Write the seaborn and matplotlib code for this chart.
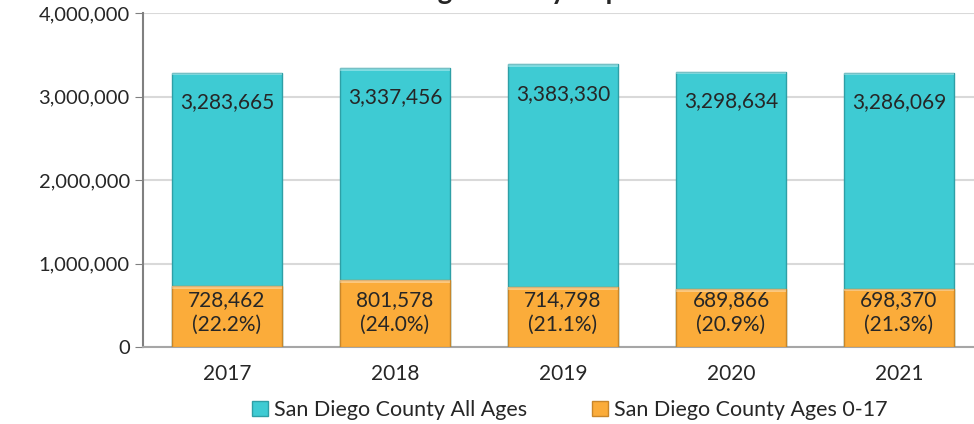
import matplotlib
matplotlib.use("Agg")
import matplotlib.pyplot as plt
from matplotlib.patches import Patch
from matplotlib.ticker import FuncFormatter
import seaborn as sns
import pandas as pd

years = ["2017", "2018", "2019", "2020", "2021"]
all_ages = [3283665, 3337456, 3383330, 3298634, 3286069]
ages_0_17 = [728462, 801578, 714798, 689866, 698370]
series_names = ["San Diego County All Ages", "San Diego County Ages 0-17"]
title = "San Diego County Population"

teal = "#3ECBD3"
orange = "#FBAC3A"


def main():
    sns.set_style("white")
    plt.rcParams["font.family"] = ["Lato", "DejaVu Sans"]

    df = pd.DataFrame({"year": years, "all": all_ages, "kids": ages_0_17})

    fig = plt.figure(figsize=(9.74, 4.24), dpi=100)
    ax = fig.add_axes([143 / 974, 77 / 424, 840 / 974, 334 / 424])

    sns.barplot(data=df, x="year", y="all", color=teal, width=0.66,
                saturation=1, edgecolor="#2E9FA6", linewidth=1, ax=ax, zorder=3)
    sns.barplot(data=df, x="year", y="kids", color=orange, width=0.66,
                saturation=1, edgecolor="#C9862A", linewidth=1, ax=ax, zorder=4)

    # light top edge like the bevel in the original
    for p in ax.patches:
        ax.add_patch(plt.Rectangle((p.get_x(), p.get_height() - 30000), p.get_width(), 30000,
                                   color="white", alpha=0.35, lw=0, zorder=5))

    for i, (a, k) in enumerate(zip(all_ages, ages_0_17)):
        ax.text(i, a - 350000, f"{a:,}", ha="center", va="center", fontsize=15, zorder=6)
        ax.text(i, 410000, f"{k:,}\n({k / a * 100:.1f}%)", ha="center", va="center",
                fontsize=15, linespacing=1.3, zorder=6)

    ax.set_ylim(0, 4000000)
    ax.set_xlim(-0.5, 4.5)
    ax.set_yticks([0, 1000000, 2000000, 3000000, 4000000])
    ax.yaxis.set_major_formatter(FuncFormatter(lambda v, _: f"{int(v):,}"))
    ax.grid(axis="y", color="#D9D9D9", lw=1.5, zorder=0)
    ax.set_xlabel("")
    ax.set_ylabel("")
    ax.tick_params(axis="y", labelsize=14.5, length=6, color="#808080", direction="out", left=True)
    ax.tick_params(axis="x", labelsize=15, length=0, pad=12)
    for s in ["top", "right"]:
        ax.spines[s].set_visible(False)
    ax.spines["left"].set_color("#808080")
    ax.spines["bottom"].set_color("#A6A6A6")
    ax.spines["left"].set_linewidth(1.5)
    ax.spines["bottom"].set_linewidth(1.5)

    # title sits mostly above the canvas, as in the cropped original
    fig.text(0.539, 1.0 + 1 / 424, title, ha="center", va="baseline", fontsize=20, fontweight="bold")

    handles = [Patch(facecolor=teal, edgecolor="#2E9FA6"),
               Patch(facecolor=orange, edgecolor="#C9862A")]
    fig.legend(handles, series_names, loc="center", bbox_to_anchor=(0.585, 0.033), ncol=2,
               frameon=False, fontsize=15.5, handlelength=0.75, handleheight=0.75,
               handletextpad=0.3, columnspacing=3.0)

    fig.savefig("out.png", dpi=100)


if __name__ == "__main__":
    main()
